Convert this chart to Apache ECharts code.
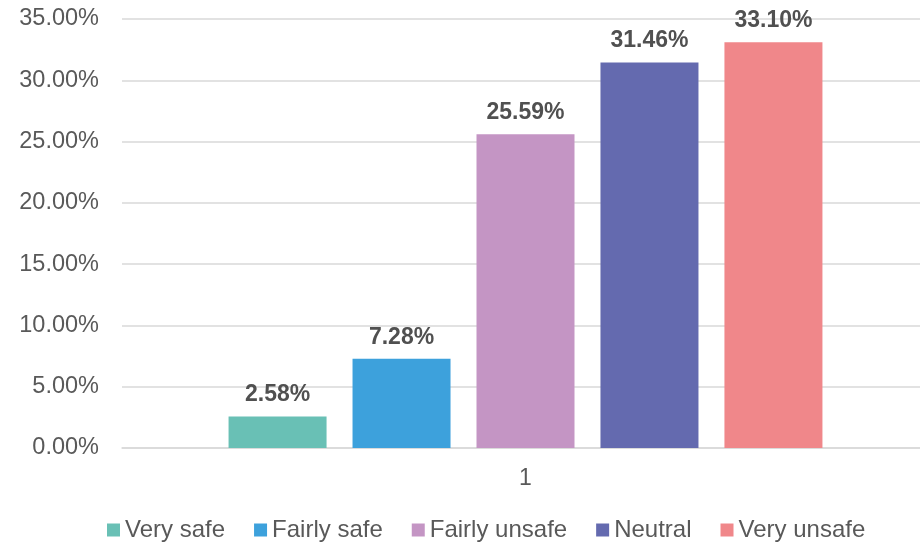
<!DOCTYPE html>
<html>
<head>
<meta charset="utf-8">
<script src="https://cdn.jsdelivr.net/npm/echarts@6/dist/echarts.min.js"></script>
<style>
  html, body { margin: 0; padding: 0; background: #ffffff; }
  #chart { width: 920px; height: 544px; }
</style>
</head>
<body>
<div id="chart"></div>
<script>
// Survey answers, share of respondents (%) for the single group "1"
const categories = ['1'];
const seriesNames = ['Very safe', 'Fairly safe', 'Fairly unsafe', 'Neutral', 'Very unsafe'];
const seriesValues = [[2.58], [7.28], [25.59], [31.46], [33.10]];
const seriesColors = ['#69C0B5', '#3DA1DC', '#C495C4', '#646AAF', '#F0878A'];
const yTicks = { min: 0, max: 35, interval: 5 };

const FONT = '"Liberation Sans", Arial, sans-serif';

const chart = echarts.init(document.getElementById('chart'), null, { renderer: 'canvas' });

const series = seriesNames.map((name, i) => ({
  name: name,
  type: 'bar',
  data: seriesValues[i],
  barWidth: 98,
  barGap: '26.5%',
  itemStyle: { color: seriesColors[i] },
  label: {
    show: true,
    position: 'top',
    distance: 10,
    formatter: p => p.value.toFixed(2) + '%',
    color: '#505050',
    fontFamily: FONT,
    fontSize: 23,
    fontWeight: 'bold'
  }
}));

chart.setOption({
  animation: false,
  backgroundColor: '#ffffff',
  grid: {
    left: 122, top: 19, right: -9, bottom: 96,
    containLabel: false,
    outerBoundsMode: 'none'
  },
  xAxis: {
    type: 'category',
    data: categories,
    axisLine: { show: true, lineStyle: { color: '#d9d9d9', width: 1.5 } },
    axisTick: { show: false },
    axisLabel: { color: '#595959', fontFamily: FONT, fontSize: 23, margin: 19 }
  },
  yAxis: {
    type: 'value',
    min: yTicks.min,
    max: yTicks.max,
    interval: yTicks.interval,
    axisLine: { show: false },
    axisTick: { show: false },
    splitLine: { lineStyle: { color: '#d9d9d9', width: 1.5 } },
    axisLabel: {
      color: '#595959',
      fontFamily: FONT,
      fontSize: 23.5,
      margin: 23,
      formatter: v => v.toFixed(2) + '%'
    }
  },
  legend: {
    data: seriesNames,
    left: 107,
    top: 518,
    padding: 0,
    icon: 'rect',
    itemWidth: 13,
    itemHeight: 13,
    itemGap: 29,
    textStyle: { color: '#595959', fontFamily: FONT, fontSize: 24, padding: [0, 0, 0, 0] }
  },
  series: series
});
</script>
</body>
</html>
